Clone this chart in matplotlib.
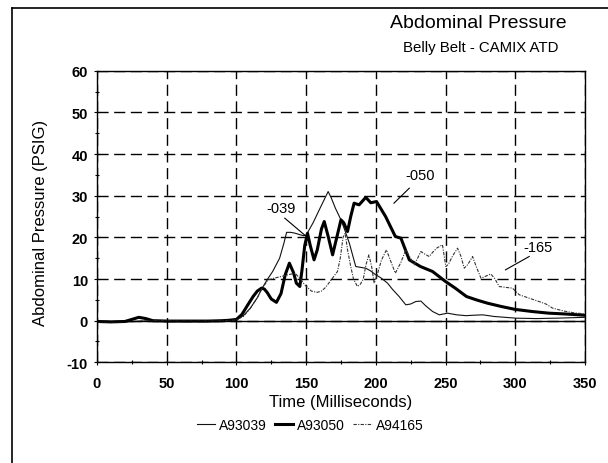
import numpy as np
import matplotlib
matplotlib.use('Agg')
import matplotlib.pyplot as plt
from matplotlib.lines import Line2D

plt.rcParams['font.family'] = ['Liberation Sans', 'DejaVu Sans']
plt.rcParams['axes.unicode_minus'] = False

# A93039 - thin solid trace
t_039 = [0, 20, 40, 60, 80, 95, 100, 105, 110, 115, 118, 122, 126, 131, 134, 136,
         139, 142, 145, 148, 150, 155, 160, 165.8, 168, 171, 175, 178, 181, 185.6,
         189, 192.8, 196, 200, 204, 208.4, 212, 216.7, 221.5, 225, 228.7, 232.3,
         236, 240.7, 245.5, 251.4, 258, 264.6, 270, 276.6, 285, 300.5, 315, 330, 350]
p_039 = [-0.3, -0.3, 0, -0.1, -0.1, 0, 0.2, 1.2, 3, 5.5, 7.5, 9.8, 11.8, 15, 18.5, 21.2,
         21.2, 21, 20.7, 20.4, 20.5, 23.5, 27, 31, 29.5, 27, 24.2, 21.5, 18.6, 13,
         12.8, 12.6, 12, 11, 10.2, 9, 7.5, 5.8, 3.8, 4, 4.6, 4.7,
         3.5, 2.2, 1.4, 1.8, 1.4, 1.2, 1.3, 1.4, 1, 0.6, 0.5, 0.6, 0.8]

# A93050 - thick trace
t_050 = [0, 10, 20, 25, 30, 35, 40, 50, 60, 70, 80, 90, 95, 100, 104, 108, 112, 115, 118,
         120, 122, 125, 128.7, 132, 135, 138, 141, 143, 145.5, 147, 149, 151, 153, 155.7,
         158, 161, 163, 166, 169, 172, 175, 177, 179.7, 182, 184.4, 188, 192.8, 196.4,
         200.5, 207, 214, 218, 224, 232, 240.7, 250, 257, 265, 272, 280, 290, 300,
         312, 324, 336, 350]
p_050 = [-0.2, -0.3, -0.2, 0.3, 0.8, 0.5, 0, -0.1, -0.1, -0.1, -0.1, 0, 0.1, 0.3, 1.5, 3.7, 5.8, 7.1, 7.8,
         7.6, 6.8, 5.2, 4.4, 6.5, 11, 13.8, 11.5, 9, 8.2, 12, 18, 21, 18, 14.6,
         17, 22, 23.8, 20, 15.8, 20, 24.2, 23.5, 21.4, 25, 28.2, 27.8, 29.6, 28.3,
         28.6, 25, 20.2, 19.8, 14.6, 13, 11.8, 9.4, 7.8, 5.8, 5, 4.2, 3.4, 2.7,
         2.2, 1.8, 1.6, 1.3]

# A94165 - dotted trace
t_165 = [0, 20, 40, 60, 80, 95, 100, 105, 110, 115, 118, 122.7, 127, 132, 137, 142,
         146, 149, 153.8, 158, 161, 164, 168, 172.5, 174.5, 176.5, 178, 179.7, 182,
         184, 186.8, 189, 191, 193, 195, 197, 198.8, 201, 204, 207.6, 211, 214, 218,
         221.5, 224, 227.5, 230, 232.3, 235, 238.3, 241, 244, 247.8, 250.2, 252, 255,
         258.6, 261, 263.4, 266, 269.4, 272, 275.4, 279, 282.5, 285.5, 288.5, 293,
         298, 302.9, 310, 317, 322, 326.8, 335, 342, 350]
p_165 = [-0.3, -0.3, 0, -0.1, -0.1, 0, 0.2, 1, 3, 5.5, 7.5, 9.8, 10.2, 10.6, 11, 11.4,
         10, 8.6, 7.1, 6.8, 7.1, 8, 9.8, 11.8, 15, 20, 21, 17, 13,
         10, 8.2, 8.8, 10, 13.5, 15.8, 13, 9, 11, 14.5, 17, 14, 11.4, 14,
         17, 15.5, 13.4, 15, 16.6, 16, 15.4, 16.5, 17.5, 18.2, 13, 13.5, 15.5,
         17.4, 15.5, 12.6, 13.5, 15.4, 13, 10.2, 10.7, 11.2, 10, 8.2, 8,
         7.8, 6.2, 5.4, 4.6, 4, 3, 2.3, 1.9, 1.6]

x_ticks = [0, 50, 100, 150, 200, 250, 300, 350]
y_ticks = [-10, 0, 10, 20, 30, 40, 50, 60]

fig = plt.figure(figsize=(6.08, 4.64), dpi=100)
ax = fig.add_axes([0.1595, 0.217, 0.8026, 0.6284])

ax.plot(t_039, p_039, color='#111111', lw=0.8, label='A93039', solid_joinstyle='round')
ax.plot(t_050, p_050, color='black', lw=2.2, label='A93050', solid_joinstyle='round')
ax.plot(t_165, p_165, color='#333333', lw=0.8, linestyle=(0, (3, 1.2, 1, 1.2)), label='A94165')

ax.set_xlim(0, 350)
ax.set_ylim(-10, 60)
ax.set_xticks(x_ticks)
ax.set_yticks(y_ticks)
ax.set_xticks(np.arange(0, 351, 25), minor=True)
ax.set_yticks(np.arange(-10, 61, 5), minor=True)
ax.grid(True, which='major', color='black', lw=1.0, linestyle=(0, (8, 4)))
ax.axhline(0, color='black', lw=1.0)
ax.tick_params(which='major', direction='inout', length=5, width=0.8)
ax.tick_params(which='minor', direction='inout', length=3.5, width=0.8)
ax.tick_params(axis='x', pad=7)
ax.tick_params(axis='y', pad=4)
for lab in ax.get_xticklabels() + ax.get_yticklabels():
    lab.set_fontweight('bold')
    lab.set_fontsize(10.5)
for sp in ax.spines.values():
    sp.set_linewidth(1.0)

ax.set_xlabel('Time (Milliseconds)', fontsize=12)
ax.xaxis.set_label_coords(0.5, -0.108)
ax.set_ylabel('Abdominal Pressure (PSIG)', fontsize=12)
ax.yaxis.set_label_coords(-0.1, 0.48)

# curve labels with pointer lines
ax.text(132, 27, '-039', fontsize=10.5, ha='center', va='center')
ax.plot([134.7, 149.5], [24.6, 20.4], color='black', lw=0.8)
ax.text(232, 35, '-050', fontsize=10.5, ha='center', va='center')
ax.plot([224, 213], [31.8, 28.2], color='black', lw=0.8)
ax.text(316, 17.8, '-165', fontsize=10.5, ha='center', va='center')
ax.plot([310, 293], [15.4, 12.2], color='black', lw=0.8)

fig.text(0.787, 0.95, 'Abdominal Pressure', fontsize=14, ha='center', va='center')
fig.text(0.79, 0.897, 'Belly Belt - CAMIX ATD', fontsize=10.8, ha='center', va='center')

fig.legend(loc='center', bbox_to_anchor=(0.51, 0.082), ncol=3, frameon=False,
           fontsize=10, handlelength=1.3, handletextpad=0.3, columnspacing=0.6)

# page frame (left and top edges)
fig.add_artist(Line2D([12 / 608, 12 / 608], [0, 1 - 9 / 464], color='black', lw=1.2))
fig.add_artist(Line2D([12 / 608, 1], [1 - 9 / 464, 1 - 9 / 464], color='black', lw=1.2))

fig.savefig('out.png', dpi=100)
